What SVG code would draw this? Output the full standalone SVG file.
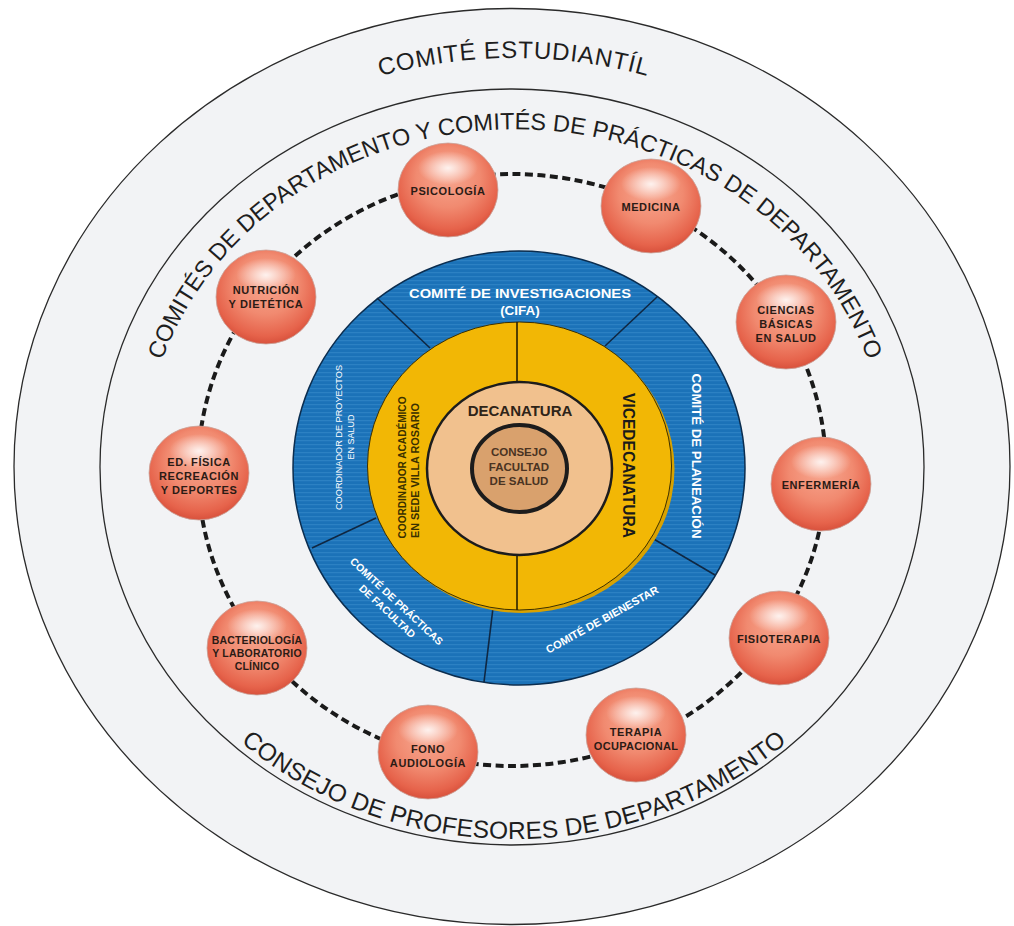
<svg xmlns="http://www.w3.org/2000/svg" width="1014" height="926" viewBox="0 0 1014 926">
<style>
.ring{fill:none;stroke:#2a2a2a;stroke-width:1.3}
.arc{font-family:"Liberation Sans",Arial,sans-serif;font-size:24px;fill:#1e1e1e}
.bub{fill:url(#bubG);stroke:#c9a59c;stroke-width:0.8}
.hl{fill:url(#hlG)}
.bt{font-family:"Liberation Sans",Arial,sans-serif;font-weight:bold;font-size:11px;letter-spacing:0.6px;fill:#2b1b15;text-anchor:middle}
.wt{font-family:"Liberation Sans",Arial,sans-serif;font-weight:bold;fill:#ffffff;text-anchor:middle}
.dk{font-family:"Liberation Sans",Arial,sans-serif;font-weight:bold;text-anchor:middle}
.div{stroke:#0f2742;stroke-width:1.6;fill:none}
.ydiv{stroke:#2a2200;stroke-width:1.6;fill:none}
</style>
<defs>
<radialGradient id="bubG" cx="0.5" cy="0.42" r="0.58" fx="0.5" fy="0.3">
<stop offset="0" stop-color="#f8ab94"/>
<stop offset="0.55" stop-color="#f18a70"/>
<stop offset="0.88" stop-color="#e6634b"/>
<stop offset="1" stop-color="#d8513c"/>
</radialGradient>
<radialGradient id="hlG" cx="0.5" cy="0.5" r="0.5">
<stop offset="0" stop-color="#ffffff" stop-opacity="0.85"/>
<stop offset="1" stop-color="#ffffff" stop-opacity="0"/>
</radialGradient>
<pattern id="stripes" width="8" height="4" patternUnits="userSpaceOnUse">
<rect width="8" height="4" fill="#1b72b8"/>
<rect width="8" height="1.2" fill="#3b8dcc" opacity="0.55"/>
</pattern>
<path id="pTop" d="M 214 158 A 500 500 0 0 1 814 158"/>
<path id="pMid" d="M 148.7 408.3 A 372 338 0 0 1 881.3 408.3"/>
<path id="pBot" d="M 162.4 653 A 406 372 0 0 0 865.6 653"/>
</defs>
<rect width="1014" height="926" fill="#ffffff"/>
<g id="outer-rings">
<ellipse cx="512" cy="466.5" rx="498" ry="458" fill="#f2f3f5" stroke="#2a2a2a" stroke-width="1.3"/>
<ellipse class="ring" cx="512" cy="467" rx="412" ry="378"/>
<text class="arc" letter-spacing="0.8"><textPath href="#pTop" startOffset="50%" text-anchor="middle">COMITÉ ESTUDIANTÍL</textPath></text>
<text class="arc" style="font-size:23.5px"><textPath href="#pMid" startOffset="50%" text-anchor="middle">COMITÉS DE DEPARTAMENTO Y COMITÉS DE PRÁCTICAS DE DEPARTAMENTO</textPath></text>
<text class="arc" style="font-size:24.5px" letter-spacing="0.2"><textPath href="#pBot" startOffset="50%" text-anchor="middle">CONSEJO DE PROFESORES DE DEPARTAMENTO</textPath></text>
</g>
<g id="connectors">
<ellipse cx="512" cy="470" rx="314" ry="296" fill="none" stroke="#1a1a1a" stroke-width="4" stroke-dasharray="8 4.5"/>
</g>
<g id="blue-ring">
<ellipse cx="519" cy="468" rx="226" ry="217" fill="url(#stripes)" stroke="#0b2d4f" stroke-width="1.5"/>
<line class="div" x1="377" y1="298" x2="430" y2="348"/>
<line class="div" x1="657" y1="297" x2="605" y2="346"/>
<line class="div" x1="312" y1="548" x2="376" y2="518"/>
<line class="div" x1="652" y1="538" x2="715" y2="575"/>
<line class="div" x1="493" y1="608" x2="484" y2="682"/>
<text class="wt" x="520" y="297.5" font-size="13.5" textLength="222" lengthAdjust="spacingAndGlyphs">COMITÉ DE INVESTIGACIONES</text>
<text class="wt" x="520" y="315" font-size="13.5">(CIFA)</text>
<text class="wt" font-size="13.5" transform="translate(692,456) rotate(90)" textLength="165" lengthAdjust="spacingAndGlyphs">COMITÉ DE PLANEACIÓN</text>
<text class="wt" font-size="9" style="font-weight:normal" transform="translate(341.5,437.5) rotate(-90)" textLength="145" lengthAdjust="spacingAndGlyphs">COORDINADOR DE PROYECTOS</text>
<text class="wt" font-size="9" style="font-weight:normal" transform="translate(353.5,437) rotate(-90)">EN SALUD</text>
<text class="wt" font-size="10.5" transform="translate(394,604) rotate(43)">COMITÉ DE PRÁCTICAS</text>
<text class="wt" font-size="10.5" transform="translate(384.8,613.9) rotate(43)">DE FACULTAD</text>
<text class="wt" font-size="11" transform="translate(604,623) rotate(-29)">COMITÉ DE BIENESTAR</text>
</g>
<g id="yellow-ring">
<ellipse cx="522.5" cy="469" rx="152" ry="144" fill="#d9a200"/>
<ellipse cx="519.5" cy="466" rx="152" ry="144" fill="#f2b705" stroke="#3d3000" stroke-width="1"/>
<line class="ydiv" x1="517" y1="322" x2="517" y2="383"/>
<line class="ydiv" x1="517" y1="554" x2="517" y2="610"/>
<text class="dk" fill="#1a1a1a" font-size="16" transform="translate(623,465.5) rotate(90)" textLength="145" lengthAdjust="spacingAndGlyphs">VICEDECANATURA</text>
<text class="dk" fill="#3a3000" font-size="10" transform="translate(406,467.5) rotate(-90)" textLength="142" lengthAdjust="spacingAndGlyphs">COORDINADOR ACADÉMICO</text>
<text class="dk" fill="#3a3000" font-size="10" transform="translate(419,470.5) rotate(-90)" textLength="135" lengthAdjust="spacingAndGlyphs">EN SEDE VILLA ROSARIO</text>
</g>
<g id="decanatura">
<ellipse cx="519.5" cy="468.5" rx="92.5" ry="86.5" fill="#f1c18e" stroke="#1c1c1c" stroke-width="2.5"/>
<text class="dk" x="520" y="416" font-size="15" fill="#2e2418">DECANATURA</text>
</g>
<g id="consejo">
<ellipse cx="519.5" cy="468.5" rx="47.5" ry="43.5" fill="#d9a16d" stroke="#1c1c1c" stroke-width="4"/>
<text class="dk" x="519" y="456" font-size="11.5" fill="#4a3322">CONSEJO</text>
<text class="dk" x="519" y="470.5" font-size="11.5" fill="#4a3322">FACULTAD</text>
<text class="dk" x="519" y="485" font-size="11.5" fill="#4a3322">DE SALUD</text>
</g>
<g id="psicologia">
<ellipse class="bub" cx="448" cy="190" rx="50" ry="47"/>
<ellipse class="hl" cx="448" cy="168" rx="30" ry="17"/>
<text class="bt" x="448" y="195">PSICOLOGÍA</text>
</g>
<g id="medicina">
<ellipse class="bub" cx="651" cy="206" rx="50" ry="47"/>
<ellipse class="hl" cx="651" cy="184" rx="30" ry="17"/>
<text class="bt" x="651" y="211">MEDICINA</text>
</g>
<g id="ciencias">
<ellipse class="bub" cx="786" cy="322" rx="50" ry="47"/>
<ellipse class="hl" cx="786" cy="300" rx="30" ry="17"/>
<text class="bt" x="786" y="313.5">CIENCIAS</text>
<text class="bt" x="786" y="327.5">BÁSICAS</text>
<text class="bt" x="786" y="341.5">EN SALUD</text>
</g>
<g id="enfermeria">
<ellipse class="bub" cx="821" cy="484" rx="50" ry="47"/>
<ellipse class="hl" cx="821" cy="462" rx="30" ry="17"/>
<text class="bt" x="821" y="489">ENFERMERÍA</text>
</g>
<g id="fisioterapia">
<ellipse class="bub" cx="779" cy="638" rx="50" ry="47"/>
<ellipse class="hl" cx="779" cy="616" rx="30" ry="17"/>
<text class="bt" x="779" y="643">FISIOTERAPIA</text>
</g>
<g id="terapia">
<ellipse class="bub" cx="636" cy="735" rx="50" ry="47"/>
<ellipse class="hl" cx="636" cy="713" rx="30" ry="17"/>
<text class="bt" x="636" y="736">TERAPIA</text>
<text class="bt" x="636" y="750" style="letter-spacing:0.3px">OCUPACIONAL</text>
</g>
<g id="fono">
<ellipse class="bub" cx="428" cy="752" rx="50" ry="47"/>
<ellipse class="hl" cx="428" cy="730" rx="30" ry="17"/>
<text class="bt" x="428" y="753">FONO</text>
<text class="bt" x="428" y="767">AUDIOLOGÍA</text>
</g>
<g id="bacteriologia">
<ellipse class="bub" cx="257" cy="648" rx="50" ry="47"/>
<ellipse class="hl" cx="257" cy="626" rx="30" ry="17"/>
<text class="bt" x="257" y="644" style="font-size:10.5px;letter-spacing:0.2px">BACTERIOLOGÍA</text>
<text class="bt" x="257" y="657.2" style="font-size:10.5px;letter-spacing:0.2px">Y LABORATORIO</text>
<text class="bt" x="257" y="670.4" style="font-size:10.5px;letter-spacing:0.2px">CLÍNICO</text>
</g>
<g id="edfisica">
<ellipse class="bub" cx="199" cy="473" rx="50" ry="47"/>
<ellipse class="hl" cx="199" cy="451" rx="30" ry="17"/>
<text class="bt" x="199" y="465.5">ED. FÍSICA</text>
<text class="bt" x="199" y="479.5">RECREACIÓN</text>
<text class="bt" x="199" y="493.5">Y DEPORTES</text>
</g>
<g id="nutricion">
<ellipse class="bub" cx="266" cy="297" rx="50" ry="47"/>
<ellipse class="hl" cx="266" cy="275" rx="30" ry="17"/>
<text class="bt" x="266" y="294">NUTRICIÓN</text>
<text class="bt" x="266" y="308">Y DIETÉTICA</text>
</g>
</svg>
